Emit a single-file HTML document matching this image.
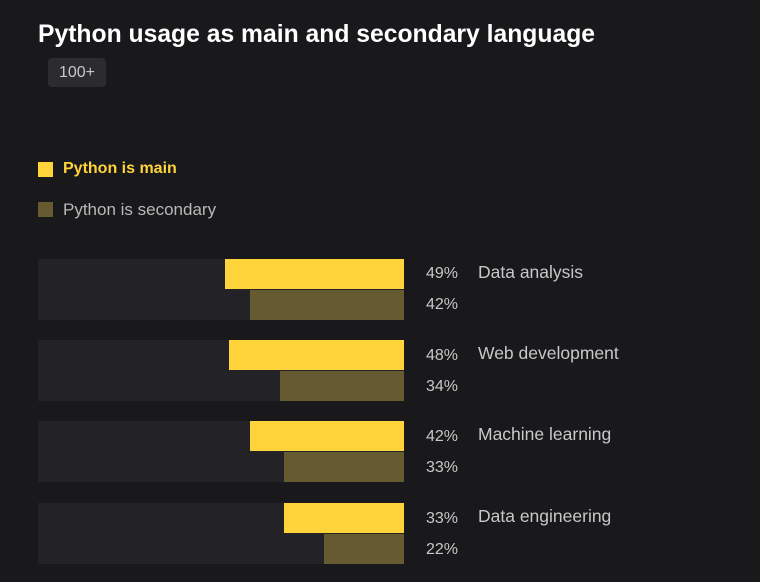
<!DOCTYPE html>
<html><head><style>
body{margin:0;width:760px;height:582px;background:#19191c;font-family:"Liberation Sans",sans-serif;position:relative;overflow:hidden}
.a{position:absolute}
.t{left:38px;top:21px;color:#fff;font-size:24.7px;font-weight:bold;white-space:nowrap}
.badge{left:48px;top:58px;width:58px;height:29px;background:#2c2c30;border-radius:4px;color:#c8c8c8;font-size:16px;line-height:29px;text-align:center}
.sq{width:15px;height:15px}
.lg{font-size:17px;white-space:nowrap}
.tr{left:38px;width:366px;height:30px;background:#232327}
.m{background:#ffd43b;height:30px}
.s{background:#665a30;height:30px}
.p{left:404px;width:54px;text-align:right;color:#c8c8c8;font-size:16px}
.l{left:478px;color:#c8c8c8;font-size:17.5px;white-space:nowrap}
</style></head><body>
<div class="a t">Python usage as main and secondary language</div>
<div class="a badge">100+</div>
<div class="a sq" style="left:38px;top:162px;background:#ffd43b"></div>
<div class="a lg" style="left:63px;top:160px;color:#ffd43b;font-weight:bold;font-size:16px">Python is main</div>
<div class="a sq" style="left:38px;top:202px;background:#665a30"></div>
<div class="a lg" style="left:63px;top:200px;color:#b8b8b8">Python is secondary</div>

<div class="a tr" style="top:259px;height:61px"></div>
<div class="a m" style="left:225px;width:179px;top:259px"></div>
<div class="a s" style="left:250px;width:154px;top:290px"></div>
<div class="a p" style="top:265px">49%</div><div class="a p" style="top:296px">42%</div>
<div class="a l" style="top:262px">Data analysis</div>

<div class="a tr" style="top:340px;height:61px"></div>
<div class="a m" style="left:229px;width:175px;top:340px"></div>
<div class="a s" style="left:280px;width:124px;top:371px"></div>
<div class="a p" style="top:347px">48%</div><div class="a p" style="top:378px">34%</div>
<div class="a l" style="top:343px">Web development</div>

<div class="a tr" style="top:421px;height:61px"></div>
<div class="a m" style="left:250px;width:154px;top:421px"></div>
<div class="a s" style="left:284px;width:120px;top:452px"></div>
<div class="a p" style="top:428px">42%</div><div class="a p" style="top:459px">33%</div>
<div class="a l" style="top:424px">Machine learning</div>

<div class="a tr" style="top:503px;height:61px"></div>
<div class="a m" style="left:284px;width:120px;top:503px"></div>
<div class="a s" style="left:324px;width:80px;top:534px"></div>
<div class="a p" style="top:510px">33%</div><div class="a p" style="top:541px">22%</div>
<div class="a l" style="top:506px">Data engineering</div>
</body></html>
